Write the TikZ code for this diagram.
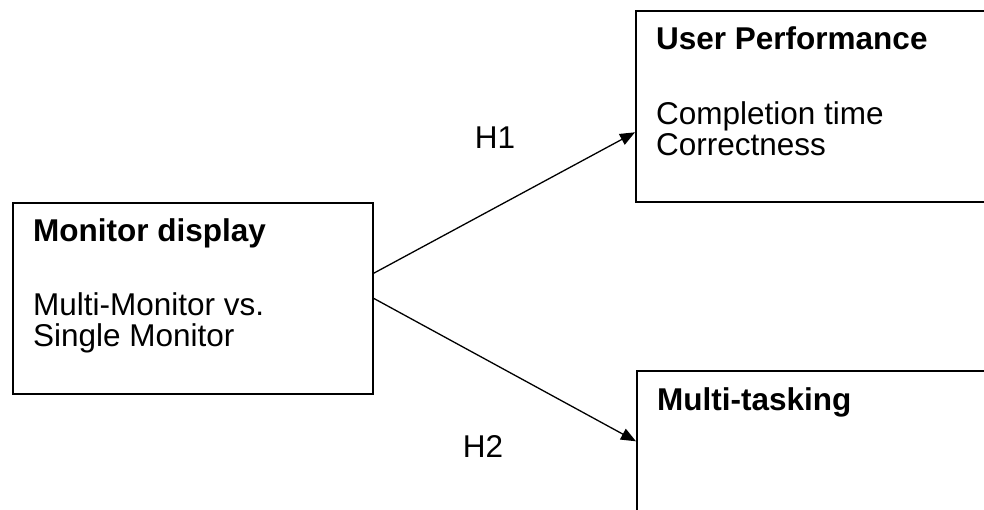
\documentclass[tikz,border=0pt]{standalone}
\usepackage{fontspec}
\setmainfont{Liberation Sans}
\usetikzlibrary{arrows.meta}
\tikzset{
  box/.style={draw, line width=1.6pt, inner sep=0pt, anchor=north west},
  txt/.style={inner sep=0pt, anchor=base west, align=left,
    font=\fontsize{31.5}{31}\selectfont},
  lbl/.style={inner sep=0pt, font=\fontsize{31.5}{31}\selectfont},
  hyp/.style={-{Triangle[length=15pt,width=12pt]}, line width=1.3pt},
}
\begin{document}
\begin{tikzpicture}[x=1pt, y=-1pt]
  \useasboundingbox (0,0) rectangle (984,510);
  \clip (0,0) rectangle (984,510);
  % boxes
  \node (disp) [box, minimum width=360pt, minimum height=191pt] at (12,202) {};
  \node (perf) [box, minimum width=400pt, minimum height=191pt] at (635,10) {};
  \node (multi) [box, minimum width=400pt, minimum height=191pt] at (636,370) {};
  % texts (base is the last line)
  \node (disptxt) [txt] at (33,346) {\textbf{Monitor display}\\[43pt]Multi-Monitor vs.\\Single Monitor};
  \node (perftxt) [txt] at (656,156) {\textbf{User Performance}\\[44pt]Completion time\\Correctness};
  \node (multitxt) [txt] at (657,410) {\textbf{Multi-tasking}};
  \node (h1) [lbl] at (495,138) {H1};
  \node (h2) [lbl] at (483,447) {H2};
  % hypotheses
  \draw [hyp] ([yshift=25pt]disp.east) -- ([yshift=-26pt]perf.west);
  \draw [hyp] (disp.east) -- ([yshift=25pt]multi.west);
\end{tikzpicture}
\end{document}
